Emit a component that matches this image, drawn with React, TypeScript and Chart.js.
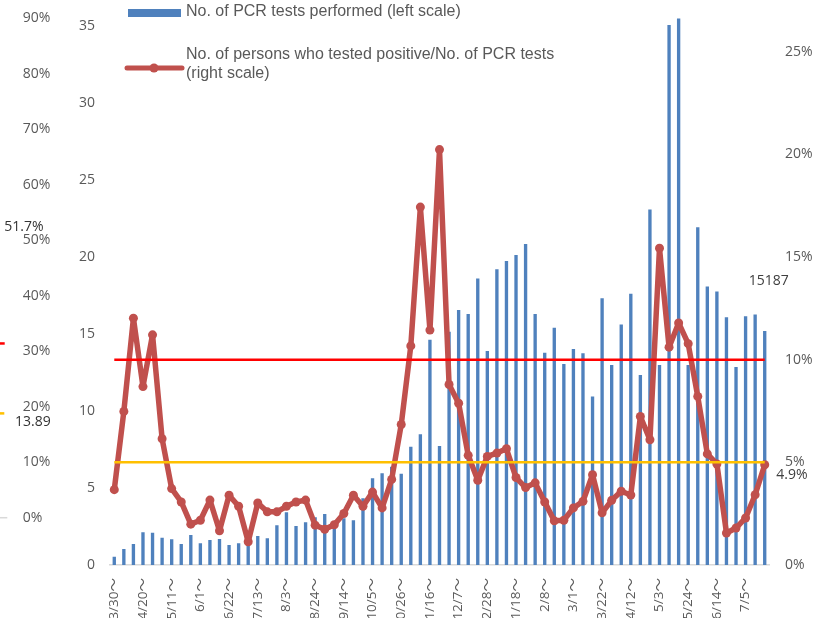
import React, { useEffect, useRef } from 'react';
import { Chart, registerables } from 'chart.js';

Chart.register(...registerables);

// Week starting dates (categories)
const WEEKS = [
  '3/30～', '4/6～', '4/13～', '4/20～', '4/27～', '5/4～', '5/11～', '5/18～', '5/25～',
  '6/1～', '6/8～', '6/15～', '6/22～', '6/29～', '7/6～', '7/13～', '7/20～', '7/27～',
  '8/3～', '8/10～', '8/17～', '8/24～', '8/31～', '9/7～', '9/14～', '9/21～', '9/28～',
  '10/5～', '10/12～', '10/19～', '10/26～', '11/2～', '11/9～', '11/16～', '11/23～', '11/30～',
  '12/7～', '12/14～', '12/21～', '12/28～', '1/4～', '1/11～', '1/18～', '1/25～', '2/1～',
  '2/8～', '2/15～', '2/22～', '3/1～', '3/8～', '3/15～', '3/22～', '3/29～', '4/5～',
  '4/12～', '4/19～', '4/26～', '5/3～', '5/10～', '5/17～', '5/24～', '5/31～', '6/7～',
  '6/14～', '6/21～', '6/28～', '7/5～', '7/12～', '7/19～',
];

// No. of PCR tests performed (thousands, left scale)
const PCR_TESTS = [
  0.54, 1.04, 1.36, 2.12, 2.10, 1.77, 1.67, 1.36, 1.95,
  1.41, 1.62, 1.69, 1.30, 1.41, 1.50, 1.88, 1.73, 2.58,
  3.42, 2.53, 2.77, 3.10, 3.31, 2.70, 3.03, 2.90, 4.33,
  5.63, 5.95, 6.38, 5.92, 7.68, 8.49, 14.62, 7.73, 15.15,
  16.56, 16.30, 18.60, 13.90, 19.20, 19.74, 20.13, 20.84, 16.30,
  13.79, 15.41, 13.05, 14.03, 13.75, 10.94, 17.32, 12.99, 15.62,
  17.62, 12.34, 23.09, 12.99, 35.06, 35.48, 12.99, 21.93, 18.08,
  17.76, 16.09, 12.86, 16.16, 16.27, 15.187,
];

// Positive / PCR tests (%, right scale)
const POSITIVE_RATE = [
  3.67, 7.48, 12.02, 8.69, 11.21, 6.15, 3.72, 3.07, 1.99,
  2.18, 3.16, 1.67, 3.40, 2.86, 1.13, 3.02, 2.59, 2.59,
  2.86, 3.07, 3.16, 1.94, 1.74, 1.96, 2.51, 3.40, 2.86,
  3.55, 2.78, 4.17, 6.84, 10.67, 17.43, 11.44, 20.23, 8.79,
  7.88, 5.34, 4.13, 5.29, 5.45, 5.66, 4.26, 3.77, 4.00,
  3.07, 2.15, 2.18, 2.78, 3.10, 4.40, 2.54, 3.15, 3.59,
  3.41, 7.23, 6.10, 15.43, 10.61, 11.79, 10.78, 8.21, 5.41,
  4.92, 1.56, 1.80, 2.29, 3.42, 4.88,
];

const RATE_ALERT = 10; // red reference line (%)
const RATE_CAUTION = 5; // orange reference line (%)

// Partially visible neighbouring chart on the far left
const REMNANT_TICKS = [0, 10, 20, 30, 40, 50, 60, 70, 80, 90];
const REMNANT_RED = 31.4;
const REMNANT_ORANGE = 18.8;
const REMNANT_LABELS = [
  { text: '51.7%', value: 52.3, right: 43.5 },
  { text: '13.89', value: 17.2, right: 50.7 },
];

const LEGEND_BAR = 'No. of PCR tests performed (left scale)';
const LEGEND_LINE = ['No. of persons who tested positive/No. of PCR tests', '(right scale)'];

const BLUE = '#4F81BD';
const DARK_RED = '#C0504D';
const TEXT = '#595959';
const FONT = "'Open Sans', sans-serif";
const XFONT = "'Open Sans', 'Noto Sans CJK JP', sans-serif";

const overlayPlugin = {
  id: 'overlay',
  afterDatasetsDraw(chart: any) {
    const { ctx, chartArea } = chart;
    const rem = chart.scales.yRem;
    ctx.save();

    // remnant marks of the neighbouring chart
    ctx.lineWidth = 1.5;
    ctx.strokeStyle = '#D9D9D9';
    ctx.beginPath();
    ctx.moveTo(0, rem.getPixelForValue(0));
    ctx.lineTo(7.3, rem.getPixelForValue(0));
    ctx.stroke();
    ctx.lineWidth = 2.5;
    ctx.strokeStyle = '#FF0000';
    ctx.beginPath();
    ctx.moveTo(0, rem.getPixelForValue(REMNANT_RED));
    ctx.lineTo(4.7, rem.getPixelForValue(REMNANT_RED));
    ctx.stroke();
    ctx.strokeStyle = '#FFC000';
    ctx.beginPath();
    ctx.moveTo(0, rem.getPixelForValue(REMNANT_ORANGE));
    ctx.lineTo(4.3, rem.getPixelForValue(REMNANT_ORANGE));
    ctx.stroke();
    ctx.font = `14px ${FONT}`;
    ctx.fillStyle = '#333333';
    ctx.textAlign = 'right';
    ctx.textBaseline = 'middle';
    REMNANT_LABELS.forEach((l) => ctx.fillText(l.text, l.right, rem.getPixelForValue(l.value)));

    // data labels for the last week
    const n = PCR_TESTS.length - 1;
    const bar = chart.getDatasetMeta(0).data[n];
    const pt = chart.getDatasetMeta(1).data[n];
    ctx.fillStyle = '#404040';
    ctx.textAlign = 'center';
    ctx.fillText(String(Math.round(PCR_TESTS[n] * 1000)), bar.x + 4, bar.y - 50);
    ctx.textAlign = 'left';
    ctx.fillText(POSITIVE_RATE[n].toFixed(1) + '%', pt.x + 11.5, pt.y + 10.6);

    // legend
    const lx = chartArea.left + 18.5;
    const top = chartArea.top;
    ctx.fillStyle = BLUE;
    ctx.fillRect(lx, top + 60, 53, 8);
    ctx.strokeStyle = DARK_RED;
    ctx.lineWidth = 5;
    ctx.lineCap = 'round';
    ctx.beginPath();
    ctx.moveTo(lx - 1, top + 119);
    ctx.lineTo(lx + 54, top + 119);
    ctx.stroke();
    ctx.fillStyle = DARK_RED;
    ctx.beginPath();
    ctx.arc(lx + 26, top + 119, 4.5, 0, Math.PI * 2);
    ctx.fill();
    ctx.font = `16px 'Liberation Sans', Arial, sans-serif`;
    ctx.fillStyle = TEXT;
    ctx.textAlign = 'left';
    ctx.textBaseline = 'middle';
    ctx.fillText(LEGEND_BAR, lx + 58, top + 63);
    ctx.fillText(LEGEND_LINE[0], lx + 58, top + 106);
    ctx.fillText(LEGEND_LINE[1], lx + 58, top + 125);
    ctx.restore();
  },
};

export default function App() {
  const ref = useRef<HTMLCanvasElement>(null);

  useEffect(() => {
    if (!ref.current) return;
    const tickFont = { family: FONT, size: 14 };
    const chart = new Chart(ref.current, {
      type: 'bar',
      data: {
        labels: WEEKS,
        datasets: [
          {
            type: 'bar',
            label: LEGEND_BAR,
            data: PCR_TESTS,
            backgroundColor: BLUE,
            yAxisID: 'y',
            categoryPercentage: 1,
            barPercentage: 0.35,
            order: 3,
          },
          {
            type: 'line',
            label: LEGEND_LINE.join(' '),
            data: POSITIVE_RATE,
            borderColor: DARK_RED,
            backgroundColor: DARK_RED,
            borderWidth: 5.5,
            borderJoinStyle: 'round',
            borderCapStyle: 'round',
            pointRadius: 4.5,
            pointBorderWidth: 0,
            pointBackgroundColor: DARK_RED,
            tension: 0,
            yAxisID: 'y1',
            order: 2,
          },
          {
            type: 'line',
            label: 'alert',
            data: WEEKS.map(() => RATE_ALERT),
            borderColor: '#FF0000',
            borderWidth: 2.5,
            pointRadius: 0,
            yAxisID: 'y1',
            order: 1,
          },
          {
            type: 'line',
            label: 'caution',
            data: WEEKS.map(() => RATE_CAUTION),
            borderColor: '#FFC000',
            borderWidth: 2.5,
            pointRadius: 0,
            yAxisID: 'y1',
            order: 0,
          },
        ],
      },
      options: {
        animation: false,
        responsive: false,
        events: [],
        layout: { padding: { left: 22.7, top: 0, right: 0, bottom: 0 }, autoPadding: false },
        plugins: { legend: { display: false }, tooltip: { enabled: false } },
        scales: {
          x: {
            offset: true,
            grid: { display: false, drawTicks: false },
            border: { display: true, color: '#D9D9D9', width: 1.5 },
            ticks: {
              autoSkip: false,
              minRotation: 90,
              maxRotation: 90,
              padding: 13,
              color: TEXT,
              font: { family: XFONT, size: 13.5 },
              callback: (_v: any, i: number) => (i % 3 === 0 ? WEEKS[i] : ''),
            },
            afterFit: (s: any) => {
              s.height = 80;
              s.paddingLeft = 0;
              s.paddingRight = 0;
            },
          },
          yRem: {
            position: 'left',
            weight: 2,
            min: -8.52,
            max: 102.48,
            grid: { display: false, drawTicks: false },
            border: { display: false },
            ticks: { crossAlign: 'far', color: TEXT, font: tickFont, callback: (v: any) => v + '%' },
            afterBuildTicks: (s: any) => {
              s.ticks = REMNANT_TICKS.map((v) => ({ value: v }));
            },
            afterFit: (s: any) => {
              s.width = 35.3;
              s.paddingTop = 0;
              s.paddingBottom = 0;
            },
          },
          y: {
            position: 'left',
            weight: 1,
            min: 0,
            max: 40,
            grid: { display: false, drawTicks: false },
            border: { display: false },
            ticks: { stepSize: 5, padding: 14.5, color: TEXT, font: tickFont },
            afterFit: (s: any) => {
              s.width = 51.5;
              s.paddingTop = 0;
              s.paddingBottom = 0;
            },
          },
          y1: {
            position: 'right',
            min: 0,
            max: 30,
            grid: { display: false, drawTicks: false },
            border: { display: false },
            ticks: { stepSize: 5, padding: 15.5, color: TEXT, font: tickFont, callback: (v: any) => v + '%' },
            afterFit: (s: any) => {
              s.width = 63.5;
              s.paddingTop = 0;
              s.paddingBottom = 0;
            },
          },
        },
      } as any,
      plugins: [overlayPlugin],
    });
    return () => chart.destroy();
  }, []);

  return (
    <div
      style={{
        position: 'fixed',
        left: 0,
        top: 0,
        width: 833,
        height: 618,
        overflow: 'hidden',
        background: '#ffffff',
      }}
    >
      <canvas
        ref={ref}
        width={833}
        height={696}
        style={{ position: 'absolute', left: 0, top: -51, width: 833, height: 696 }}
      />
    </div>
  );
}
